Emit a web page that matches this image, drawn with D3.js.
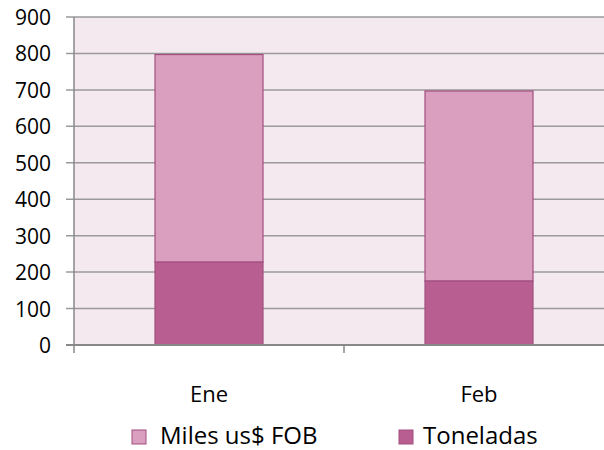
<!DOCTYPE html>
<html><head><meta charset="utf-8">
<script src="https://cdn.jsdelivr.net/npm/d3@7"></script>
<style>body{margin:0;background:#fff}svg{display:block}</style>
</head><body>
<svg id="c" width="604" height="450"></svg>
<script>
const categories = ["Ene", "Feb"];
const toneladas = [228, 176];
const milesFOB = [569, 521];
const seriesNames = ["Miles us$ FOB", "Toneladas"];
const yTicks = [0, 100, 200, 300, 400, 500, 600, 700, 800, 900];

const svg = d3.select("#c");
const font = "'Open Sans', sans-serif";
const L = 74, R = 614, T = 17, B = 345;
const x = d3.scaleBand().domain(categories).range([L, R]).paddingInner(0.6).paddingOuter(0.3);
const xb = d3.scaleBand().domain(categories).range([L, R]);
const y = d3.scaleLinear().domain([0, 900]).range([B, T]);

svg.append("rect").attr("x", L).attr("y", T).attr("width", R - L).attr("height", B - T).attr("fill", "#F5E9F0");

svg.append("g").selectAll("line").data(yTicks.slice(1)).join("line")
  .attr("x1", L - 8).attr("x2", R).attr("y1", d => y(d)).attr("y2", d => y(d))
  .attr("stroke", "#9a9a9a").attr("stroke-width", 1.5);

const rows = categories.map((c, i) => ({c, t: toneladas[i], m: milesFOB[i]}));
const stack = d3.stack().keys(["t", "m"])(rows);
const colors = {t: "#B95E90", m: "#DA9FBE"};
svg.append("g").selectAll("g").data(stack).join("g")
  .attr("fill", d => colors[d.key])
  .selectAll("rect").data(d => d).join("rect")
  .attr("x", d => x(d.data.c)).attr("width", x.bandwidth())
  .attr("y", d => y(d[1])).attr("height", d => y(d[0]) - y(d[1]))
  .attr("stroke", "#A24F80").attr("stroke-width", 1.2);

// axes
svg.append("line").attr("x1", L).attr("x2", L).attr("y1", T).attr("y2", B + 8).attr("stroke", "#888").attr("stroke-width", 1.5);
svg.append("line").attr("x1", L - 8).attr("x2", R).attr("y1", B).attr("y2", B).attr("stroke", "#888").attr("stroke-width", 2);
svg.append("g").selectAll("line").data(categories.slice(1)).join("line")
  .attr("x1", d => xb(d)).attr("x2", d => xb(d)).attr("y1", B).attr("y2", B + 8)
  .attr("stroke", "#888").attr("stroke-width", 1.5);

svg.append("g").selectAll("text").data(yTicks).join("text")
  .attr("x", 51).attr("y", d => y(d) + 8).attr("text-anchor", "end")
  .attr("font-family", font).attr("font-size", 21).attr("fill", "#000").text(d => d);

svg.append("g").selectAll("text").data(categories).join("text")
  .attr("x", d => x(d) + x.bandwidth() / 2).attr("y", 402).attr("text-anchor", "middle")
  .attr("font-family", font).attr("font-size", 22).attr("fill", "#000").text(d => d);

// legend
const leg = [{n: seriesNames[0], c: colors.m, sx: 132, tx: 160}, {n: seriesNames[1], c: colors.t, sx: 399, tx: 423}];
const lg = svg.append("g");
lg.selectAll("rect").data(leg).join("rect")
  .attr("x", d => d.sx).attr("y", 430).attr("width", 14).attr("height", 14)
  .attr("fill", d => d.c).attr("stroke", "#A24F80").attr("stroke-width", 1);
lg.selectAll("text").data(leg).join("text")
  .attr("x", d => d.tx).attr("y", 444)
  .attr("font-family", font).attr("font-size", 24).attr("fill", "#000").text(d => d.n);
</script>
</body></html>
